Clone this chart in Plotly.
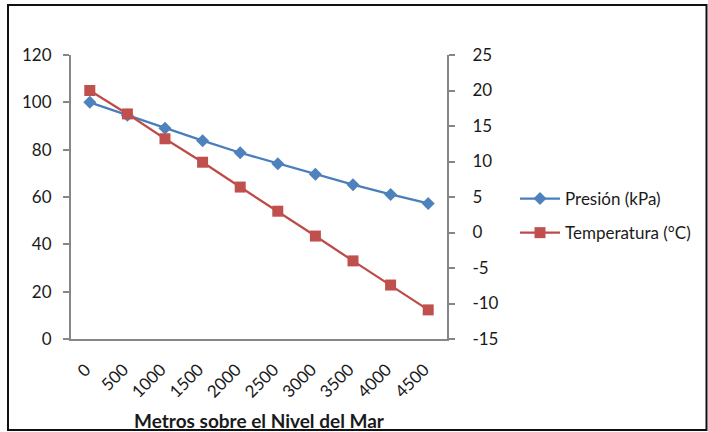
import plotly.graph_objects as go

altitudes = ["0", "500", "1000", "1500", "2000", "2500", "3000", "3500", "4000", "4500"]
presion_kpa = [100, 94.5, 89.1, 83.8, 78.7, 74.1, 69.6, 65.2, 61.1, 57.3]
temperatura_c = [20, 16.7, 13.2, 9.9, 6.4, 3.0, -0.5, -4.0, -7.4, -10.9]
left_ticks = [0, 20, 40, 60, 80, 100, 120]
right_ticks = [-15, -10, -5, 0, 5, 10, 15, 20, 25]
right_tick_labels = ["-15", "-10", "-5", "0", "5", "10", "15", "20", "25"]

W, H = 708, 432
L, R, T, B = 71, 261, 55, 93
pw, ph = W - L - R, H - T - B

def px_x(x):
    return (x - L) / pw

def px_y(y):
    return (H - B - y) / ph

FONT = "Lato, 'Open Sans', sans-serif"
AX = "#868686"
TXT = "#1a1a1a"

fig = go.Figure()
fig.add_trace(go.Scatter(
    x=altitudes, y=presion_kpa, name="Presión (kPa)", mode="lines+markers",
    line=dict(color="#4A7EBB", width=2.25),
    marker=dict(symbol="diamond", size=10, color="#4F81BD"),
    yaxis="y", legendgroup="a"))
fig.add_trace(go.Scatter(
    x=altitudes, y=temperatura_c, name="Temperatura (°C)", mode="lines+markers",
    line=dict(color="#BE4B48", width=2.25),
    marker=dict(symbol="square", size=11, color="#C0504D"),
    yaxis="y2", legendgroup="b"))

fig.update_layout(
    width=W, height=H, autosize=False,
    margin=dict(l=L, r=R, t=T, b=B, autoexpand=False),
    paper_bgcolor="white", plot_bgcolor="white",
    font=dict(family=FONT, size=17, color=TXT),
    showlegend=True,
    legend=dict(x=px_x(515), y=px_y(181), xanchor="left", yanchor="top",
                traceorder="grouped", tracegroupgap=9, itemwidth=40,
                font=dict(family=FONT, size=17, color=TXT),
                bgcolor="rgba(0,0,0,0)"),
    xaxis=dict(type="category", range=[-0.5, 9.5], showgrid=False, zeroline=False,
               automargin=False,
               showline=True, linecolor=AX, linewidth=2, ticks="",
               tickangle=-45, ticklabelstandoff=12, ticklabelshift=-4,
               tickfont=dict(family=FONT, size=17, color=TXT),
               title=dict(text="<b>Metros sobre el Nivel del Mar</b>", standoff=20,
                          font=dict(family=FONT, size=19, color=TXT))),
    yaxis=dict(range=[0, 120], tickvals=left_ticks, showgrid=False, zeroline=False,
               automargin=False,
               showline=True, linecolor=AX, linewidth=2,
               ticks="outside", ticklen=6, tickwidth=1.5, tickcolor=AX,
               ticklabelstandoff=8,
               tickfont=dict(family=FONT, size=17, color=TXT)),
    yaxis2=dict(range=[-15, 25], tickvals=right_ticks, ticktext=right_tick_labels,
                overlaying="y", side="right", automargin=False,
                showgrid=False, zeroline=False,
                showline=True, linecolor=AX, linewidth=2,
                ticks="outside", ticklen=6, tickwidth=1.5, tickcolor=AX,
                ticklabelstandoff=14,
                tickfont=dict(family=FONT, size=17, color=TXT)),
    shapes=[dict(type="rect", xref="paper", yref="paper",
                 x0=px_x(8), x1=px_x(706.5), y0=px_y(430), y1=px_y(5),
                 line=dict(color="#111111", width=2), layer="below")],
)

post = "document.body.style.margin='0';document.body.style.overflow='hidden';"
fig.write_html("out.html", post_script=post,
               config={"displayModeBar": False, "responsive": False})
